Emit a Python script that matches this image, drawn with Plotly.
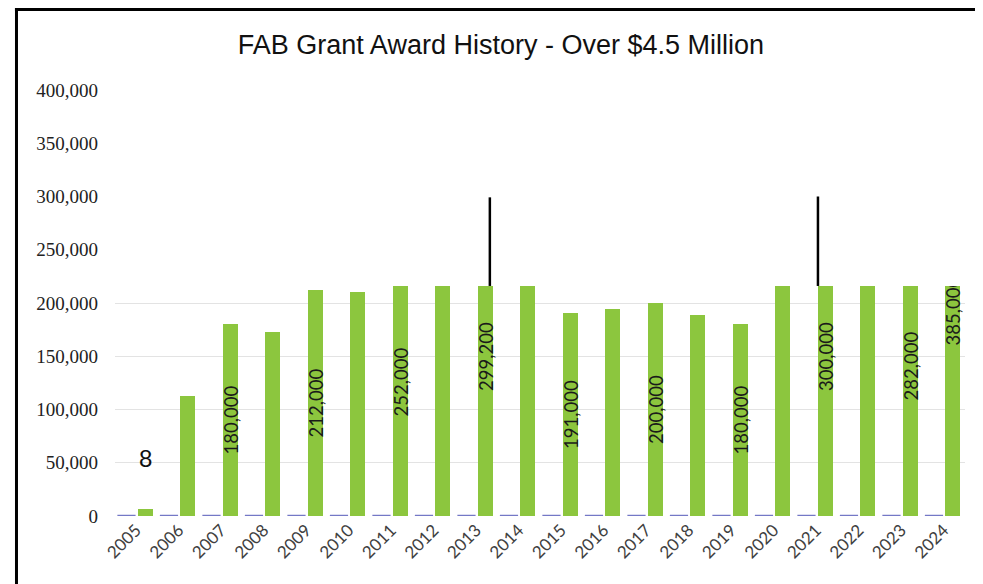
import plotly.graph_objects as go

# ---------------- data ----------------
years = list(range(2005, 2025))
year_labels = [str(y) for y in years]
awards = [7000, 113000, 180000, 173000, 212000, 210000, 252000, 270000, 299200, 280000,
          191000, 194000, 200000, 189000, 180000, 290000, 300000, 300000, 282000, 385000]
award_labels = ["", "", "180,000", "", "212,000", "", "252,000", "", "299,200", "",
                "191,000", "", "200,000", "", "180,000", "", "300,000", "", "282,000", "385,000"]
series1 = [0] * len(years)
first_label = "8"
clip_value = 216000          # bars are masked above this level in the original
marker_years = [2013, 2021]  # black vertical strokes
y_ticks = [0, 50000, 100000, 150000, 200000, 250000, 300000, 350000, 400000]
y_tick_text = ["0", "50,000", "100,000", "150,000", "200,000", "250,000", "300,000", "350,000", "400,000"]
title_text = "FAB Grant Award History - Over $4.5 Million"

GREEN = "#8cc63e"
BLUE = "#7478c6"

fig = go.Figure()

fig.add_trace(go.Scatter(
    x=[y - 0.23 for y in years], y=series1, mode="markers",
    marker=dict(symbol="line-ew", size=13, line=dict(color=BLUE, width=2.5)),
    hoverinfo="skip", showlegend=False))

fig.add_trace(go.Bar(
    x=years, y=awards, width=0.35, offset=0.04,
    marker=dict(color=GREEN, line=dict(width=0)),
    text=award_labels, textposition="inside", insidetextanchor="middle",
    textangle=-90, constraintext="none",
    textfont=dict(family="Lato, Carlito, sans-serif", size=18.5, color="#1a1a1a"),
    showlegend=False))

shapes = []
# white mask covering the upper part of the plot
shapes.append(dict(type="rect", xref="paper", yref="y", x0=0, x1=1,
                   y0=clip_value, y1=y_ticks[-1], fillcolor="white",
                   line=dict(width=0), layer="above"))
offsets = {2013: 0.32, 2021: 0.04}
for yr in marker_years:
    v = awards[years.index(yr)]
    shapes.append(dict(type="line", xref="x", yref="y",
                       x0=yr + offsets[yr], x1=yr + offsets[yr],
                       y0=clip_value, y1=v,
                       line=dict(color="black", width=2.5), layer="above"))
# outer frame (left and top edges)
shapes.append(dict(type="line", xref="paper", yref="paper",
                   x0=-0.1159, x1=-0.1159, y0=-0.3, y1=1.193,
                   line=dict(color="black", width=3), layer="above"))
shapes.append(dict(type="line", xref="paper", yref="paper",
                   x0=-0.1177, x1=1.0212, y0=1.189, y1=1.189,
                   line=dict(color="black", width=3), layer="above"))

fig.update_layout(
    width=975, height=576,
    margin=dict(l=107, r=18, t=82, b=68),
    paper_bgcolor="white", plot_bgcolor="white",
    title=dict(text=title_text, x=0.454, xref="paper", xanchor="center",
               y=0.9358, yanchor="middle",
               font=dict(family="Liberation Sans, Arial, sans-serif", size=27, color="#111111")),
    shapes=shapes,
    annotations=[dict(text=first_label, x=years[0] + 0.215, y=54000, xref="x", yref="y",
                      showarrow=False,
                      font=dict(family="Liberation Sans, Arial, sans-serif", size=24, color="#111111"))],
    bargap=0,
)

fig.update_xaxes(range=[2004.5, 2024.5], tickvals=years, ticktext=year_labels,
                 tickangle=-45, showgrid=False, zeroline=False, showline=False,
                 ticks="",
                 tickfont=dict(family="Lato, Carlito, sans-serif", size=17, color="#404040"))
fig.update_yaxes(range=[0, 400000], tickvals=y_ticks, ticktext=y_tick_text,
                 showgrid=True, gridcolor="#e3e3e3", gridwidth=1,
                 zeroline=False, showline=False, ticks="", ticklabelstandoff=16,
                 tickfont=dict(family="Liberation Serif, Times New Roman, serif", size=19, color="#222222"))

fig.write_html("out.html")
